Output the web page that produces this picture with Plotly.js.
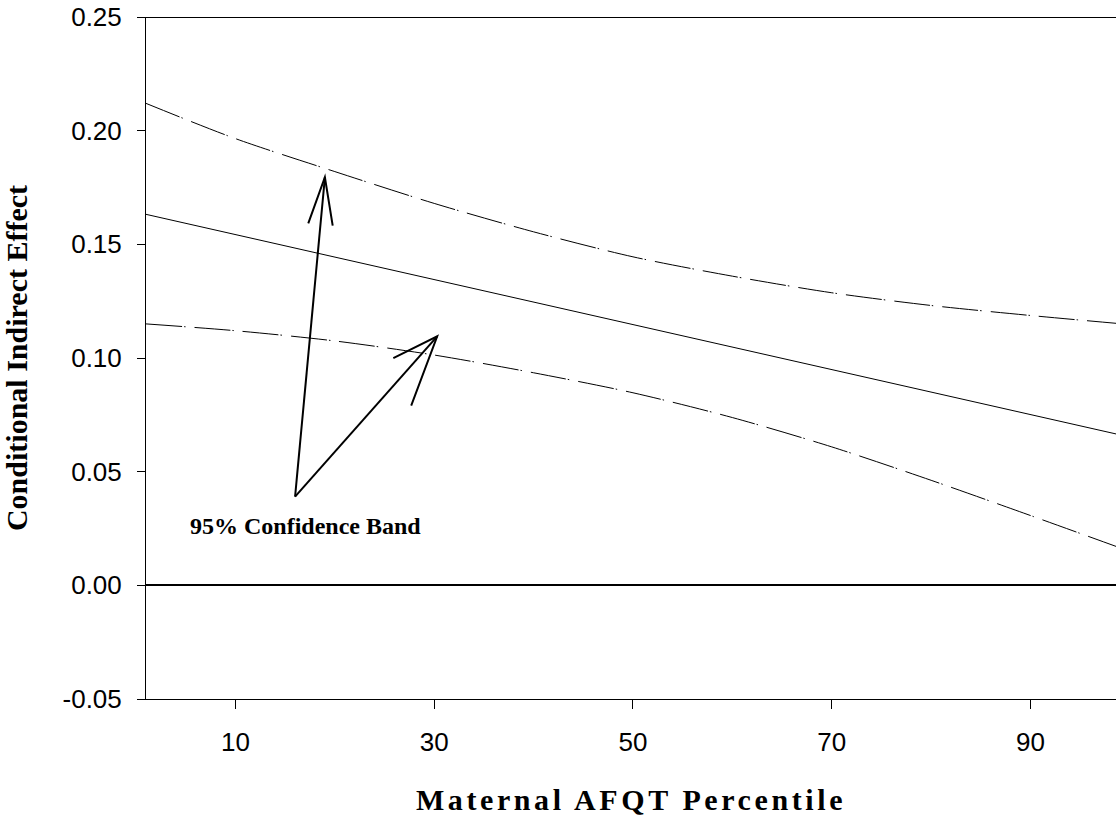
<!DOCTYPE html>
<html>
<head>
<meta charset="utf-8">
<script src="https://cdn.plot.ly/plotly-3.0.1.min.js"></script>
<style>
  html, body { margin: 0; padding: 0; background: #fff; }
  #chart { width: 1116px; height: 818px; }
  .xtitle { letter-spacing: 3.6px; }
</style>
</head>
<body>
<div id="chart"></div>
<script>
// ---- data ----
const percentile = [1, 10, 20, 30, 40, 50, 60, 70, 80, 90, 99];
const indirectEffect = [0.1632, 0.1543, 0.1444, 0.1345, 0.1246, 0.1147, 0.1048, 0.0949, 0.0850, 0.0751, 0.0662];
const upperBand = [0.212, 0.1965, 0.182, 0.168, 0.1555, 0.1445, 0.136, 0.1287, 0.1231, 0.1187, 0.1151];
const lowerBand = [0.115, 0.112, 0.1075, 0.1013, 0.0935, 0.0847, 0.0738, 0.0609, 0.0462, 0.0307, 0.0165];

const xTickVals = [10, 30, 50, 70, 90];
const xTickText = ['10', '30', '50', '70', '90'];
const yTickVals = [-0.05, 0, 0.05, 0.10, 0.15, 0.20, 0.25];
const yTickText = ['-0.05', '0.00', '0.05', '0.10', '0.15', '0.20', '0.25'];

const xTitle = 'Maternal AFQT Percentile';
const yTitle = 'Conditional Indirect Effect';
const bandLabel = '95% Confidence Band';

// annotation arrows: common tail, tips (data units), barbs as [length px, angle deg]
const arrowTail = {x: 16.0, y: 0.039};
const arrowTips = [{x: 19.0, y: 0.1795}, {x: 30.3, y: 0.1095}];
const arrowBarbs = [[[49, 14.5], [49, -14.5]], [[49, 22], [74, -21]]];
const labelPos = {x: 17.0, y: 0.0262};

// ---- layout geometry ----
const W = 1116, H = 818;
const M = {l: 146, r: 0, t: 17, b: 119};
const xRange = [1, 98.6];
const yRange = [-0.05, 0.25];
const pw = W - M.l - M.r, ph = H - M.t - M.b;
const toPx = (x, y) => [M.l + (x - xRange[0]) / (xRange[1] - xRange[0]) * pw,
                        M.t + (yRange[1] - y) / (yRange[1] - yRange[0]) * ph];
const toData = (px, py) => [xRange[0] + (px - M.l) / pw * (xRange[1] - xRange[0]),
                            yRange[1] - (py - M.t) / ph * (yRange[1] - yRange[0])];

const shapes = [
  {type: 'line', xref: 'paper', yref: 'y', x0: 0, x1: 1, y0: 0.25, y1: 0.25,
   line: {color: '#000', width: 2}}
];
const [tx, ty] = toPx(arrowTail.x, arrowTail.y);
arrowTips.forEach((tip, i) => {
  const [hx, hy] = toPx(tip.x, tip.y);
  const ang = Math.atan2(ty - hy, tx - hx);
  const pts = arrowBarbs[i].map(([len, deg]) => {
    const a = ang + deg * Math.PI / 180;
    return toData(hx + len * Math.cos(a), hy + len * Math.sin(a));
  });
  shapes.push({type: 'path', xref: 'x', yref: 'y',
    path: `M ${arrowTail.x} ${arrowTail.y} L ${tip.x} ${tip.y}`,
    line: {color: '#000', width: 2}});
  shapes.push({type: 'path', xref: 'x', yref: 'y',
    path: `M ${pts[0][0]} ${pts[0][1]} L ${tip.x} ${tip.y} L ${pts[1][0]} ${pts[1][1]}`,
    line: {color: '#000', width: 2}});
});

const dashPattern = '36px,2px,1.5px,9px';
const traces = [
  {x: percentile, y: upperBand, type: 'scatter', mode: 'lines', name: 'Upper 95%',
   line: {color: '#000', width: 1, dash: dashPattern, shape: 'spline', smoothing: 0.8}},
  {x: percentile, y: indirectEffect, type: 'scatter', mode: 'lines', name: 'Indirect effect',
   line: {color: '#000', width: 1}},
  {x: percentile, y: lowerBand, type: 'scatter', mode: 'lines', name: 'Lower 95%',
   line: {color: '#000', width: 1, dash: dashPattern, shape: 'spline', smoothing: 0.8}}
];

const tickFont = {family: 'Liberation Sans, Arial, sans-serif', size: 26, color: '#000'};
const titleFont = {family: 'Liberation Serif, Times New Roman, serif', size: 30, color: '#000', weight: 'bold'};

const layout = {
  width: W, height: H,
  margin: M,
  paper_bgcolor: '#fff', plot_bgcolor: '#fff',
  showlegend: false,
  xaxis: {
    range: xRange, autorange: false,
    tickvals: xTickVals, ticktext: xTickText,
    ticks: 'outside', ticklen: 9, tickwidth: 1, tickcolor: '#000',
    showline: true, linecolor: '#000', linewidth: 1,
    showgrid: false, zeroline: false,
    tickfont: tickFont, ticklabelstandoff: 11,
    automargin: true,
    title: {text: xTitle, font: titleFont, standoff: 32}
  },
  yaxis: {
    range: yRange, autorange: false,
    tickvals: yTickVals, ticktext: yTickText,
    ticks: 'outside', ticklen: 8, tickwidth: 1, tickcolor: '#000',
    showline: true, linecolor: '#000', linewidth: 1,
    showgrid: false,
    zeroline: true, zerolinecolor: '#000', zerolinewidth: 2,
    tickfont: tickFont, ticklabelstandoff: 10,
    automargin: true,
    title: {text: yTitle, font: titleFont, standoff: 38}
  },
  shapes: shapes,
  annotations: [
    {x: labelPos.x, y: labelPos.y, xref: 'x', yref: 'y', text: bandLabel, showarrow: false,
     xanchor: 'center', yanchor: 'middle',
     font: {family: 'Liberation Serif, Times New Roman, serif', size: 24, color: '#000', weight: 'bold'}}
  ]
};

Plotly.newPlot('chart', traces, layout, {displayModeBar: false, staticPlot: true});
</script>
</body>
</html>
